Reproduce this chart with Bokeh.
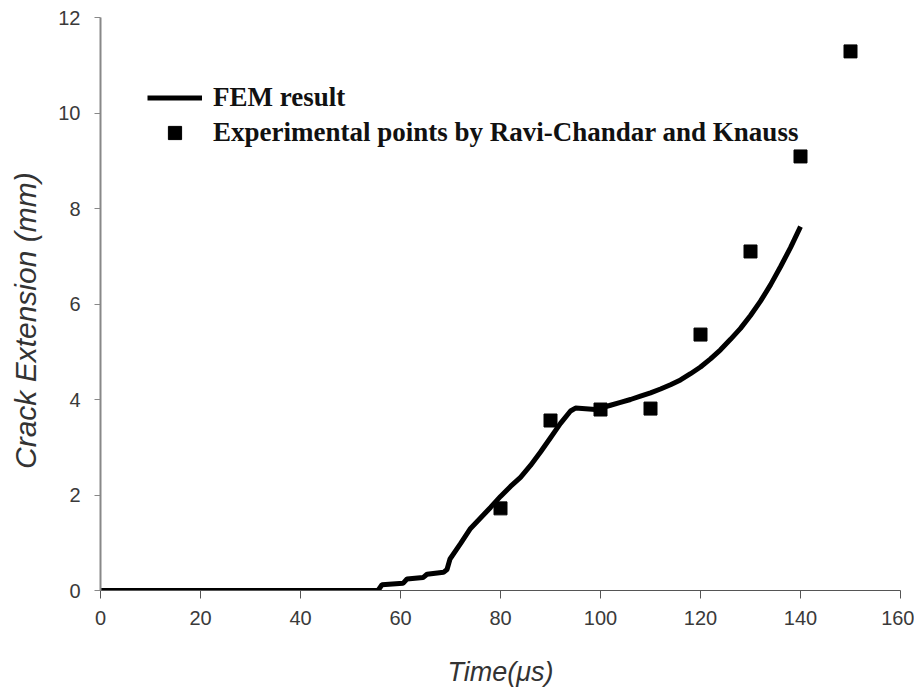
from bokeh.plotting import figure
from bokeh.models import Range1d, FixedTicker, Legend, LegendItem
from bokeh.embed import file_html
from bokeh.resources import INLINE

# FEM result (Time in microseconds, crack extension in mm)
fem_time = [0, 55.5, 56.3, 60.5, 61.3, 64.5, 65.3, 68.6, 69.3, 69.9, 72, 74, 76, 78, 80,
            82, 84, 86, 88, 90, 92, 94, 95, 99, 100, 102, 104, 106, 108, 110, 112, 114,
            116, 118, 120, 122, 124, 126, 128, 130, 132, 134, 136, 138, 140]
fem_ext = [0, 0, 0.12, 0.15, 0.24, 0.27, 0.34, 0.38, 0.44, 0.66, 0.98, 1.3, 1.52, 1.74, 1.97,
           2.18, 2.37, 2.62, 2.9, 3.2, 3.5, 3.76, 3.82, 3.79, 3.82, 3.88, 3.94, 4.0, 4.07, 4.14,
           4.22, 4.31, 4.41, 4.54, 4.68, 4.85, 5.04, 5.26, 5.49, 5.76, 6.06, 6.4, 6.78, 7.18, 7.62]

# Experimental points by Ravi-Chandar and Knauss
exp_time = [80, 90, 100, 110, 120, 130, 140, 150]
exp_ext = [1.72, 3.56, 3.79, 3.81, 5.36, 7.10, 9.09, 11.29]

x_ticks = [0, 20, 40, 60, 80, 100, 120, 140, 160]
y_ticks = [0, 2, 4, 6, 8, 10, 12]

p = figure(width=914, height=689, output_backend="svg", toolbar_location=None,
           x_range=Range1d(0, 160), y_range=Range1d(0, 12),
           min_border_left=100, min_border_right=14, min_border_top=17, min_border_bottom=99)
p.outline_line_color = None
p.xgrid.visible = False
p.ygrid.visible = False
p.background_fill_color = "white"

line_r = p.line(fem_time, fem_ext, line_color="black", line_width=5)
pts_r = p.scatter(exp_time, exp_ext, marker="square", size=13, fill_color="black", line_color="black")

p.xaxis.ticker = FixedTicker(ticks=x_ticks)
p.yaxis.ticker = FixedTicker(ticks=y_ticks)
for ax in (p.xaxis, p.yaxis):
    ax.minor_tick_line_color = None
    ax.major_tick_in = 0
    ax.major_label_text_font = "Liberation Sans"
    ax.major_label_text_font_size = "20px"
    ax.major_label_text_color = "#3a3a3a"
    ax.axis_label_text_font = "Liberation Sans"
    ax.axis_label_text_font_style = "italic"
    ax.axis_label_text_color = "#333333"

p.xaxis.axis_line_color = "#555555"
p.xaxis.axis_line_width = 1
p.xaxis.major_tick_line_color = "#555555"
p.xaxis.major_tick_out = 8
p.xaxis.major_label_standoff = 12
p.xaxis.axis_label = "Time(\u03bcs)"
p.xaxis.axis_label_text_font_size = "27px"
p.xaxis.axis_label_standoff = 29

p.yaxis.axis_line_color = "#888888"
p.yaxis.axis_line_width = 2
p.yaxis.major_tick_line_color = "#888888"
p.yaxis.major_tick_out = 6
p.yaxis.major_label_standoff = 14
p.yaxis.axis_label = "Crack Extension (mm)\u00a0\u00a0\u00a0\u00a0"
p.yaxis.axis_label_text_font_size = "30px"
p.yaxis.axis_label_standoff = 13

legend = Legend(items=[LegendItem(label="FEM result", renderers=[line_r]),
                       LegendItem(label="Experimental points by Ravi-Chandar and Knauss", renderers=[pts_r])],
                location=(47, 440), margin=0, padding=0, spacing=0,
                glyph_width=55, glyph_height=33, label_height=35, label_standoff=11,
                label_text_font="Liberation Serif", label_text_font_style="bold",
                label_text_font_size="27px", label_text_color="#111111",
                border_line_color=None, background_fill_alpha=0)
p.add_layout(legend, "center")

open("out.html", "w").write(file_html(p, INLINE))
